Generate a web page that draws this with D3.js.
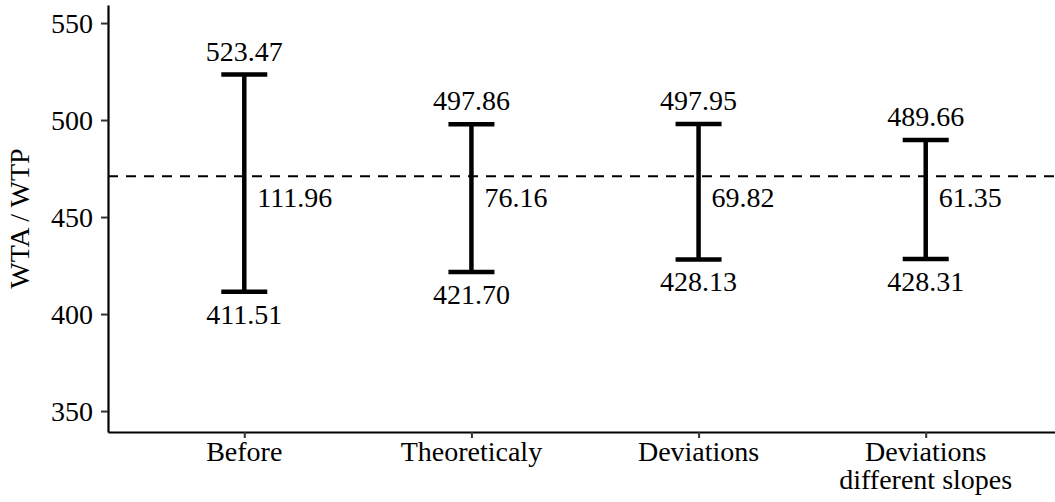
<!DOCTYPE html>
<html><head><meta charset="utf-8">
<script src="https://cdn.jsdelivr.net/npm/d3@7"></script>
<style>body{margin:0;background:#fff}svg{display:block}text{font-family:"Liberation Serif","Times New Roman",serif !important;fill:#000}</style>
</head><body><svg id="c" width="1055" height="502"></svg>
<script>
const categories = ["Before", "Theoreticaly", "Deviations", "Deviations\ndifferent slopes"];
const upper = [523.47, 497.86, 497.95, 489.66];
const lower = [411.51, 421.70, 428.13, 428.31];
const widthLabels = ["111.96", "76.16", "69.82", "61.35"];
const refLine = 471;
const midLabelY = 460;
const yTicks = [350, 400, 450, 500, 550];

const svg = d3.select("#c");
const L = 108, R = 1062, T = 5, B = 432;
const y = d3.scaleLinear().domain([339.2, 559.3]).range([B, T]);
const x = d3.scalePoint().domain(categories).range([L, R]).padding(0.6);
const fs = 28;

// y axis
const ya = svg.append("g").attr("transform", `translate(${L},0)`)
  .call(d3.axisLeft(y).tickValues(yTicks).tickSize(7).tickPadding(8).tickSizeOuter(0));
ya.attr("font-family", null).attr("font-size", null);
ya.select(".domain").attr("stroke", "#000").attr("stroke-width", 2.2);
ya.selectAll(".tick line").attr("stroke", "#333").attr("stroke-width", 2);
ya.selectAll(".tick text").style("font-size", fs + "px").attr("fill", "#000");

// x axis
const xa = svg.append("g").attr("transform", `translate(0,${B})`)
  .call(d3.axisBottom(x).tickSize(6).tickSizeOuter(0).tickFormat(""));
xa.select(".domain").attr("stroke", "#000").attr("stroke-width", 2.2);
xa.selectAll(".tick line").attr("stroke", "#333").attr("stroke-width", 2);
categories.forEach(c => {
  const t = svg.append("text").attr("x", x(c)).attr("y", 461).attr("text-anchor", "middle").style("font-size", fs + "px");
  c.split("\n").forEach((ln, i) => t.append("tspan").attr("x", x(c)).attr("dy", i ? 28 : 0).text(ln));
});

// y title
svg.append("text").attr("transform", `translate(29,${(T + B) / 2}) rotate(-90)`)
  .attr("text-anchor", "middle").style("font-size", fs + "px").text("WTA / WTP");

// reference dashed line
svg.append("line").attr("x1", L).attr("x2", 1055).attr("y1", y(refLine)).attr("y2", y(refLine))
  .attr("stroke", "#000").attr("stroke-width", 2).attr("stroke-dasharray", "10,8");

// error bars
const cap = 23;
categories.forEach((c, i) => {
  const cx = x(c);
  const g = svg.append("g").attr("stroke", "#000").attr("stroke-width", 4.5);
  g.append("line").attr("x1", cx).attr("x2", cx).attr("y1", y(upper[i])).attr("y2", y(lower[i]));
  g.append("line").attr("x1", cx - cap).attr("x2", cx + cap).attr("y1", y(upper[i])).attr("y2", y(upper[i]));
  g.append("line").attr("x1", cx - cap).attr("x2", cx + cap).attr("y1", y(lower[i])).attr("y2", y(lower[i]));
  svg.append("text").attr("x", cx).attr("y", y(upper[i]) - 14).attr("text-anchor", "middle")
    .style("font-size", fs + "px").text(upper[i].toFixed(2));
  svg.append("text").attr("x", cx).attr("y", y(lower[i]) + 32).attr("text-anchor", "middle")
    .style("font-size", fs + "px").text(lower[i].toFixed(2));
  svg.append("text").attr("x", cx + 13).attr("y", y(midLabelY)).attr("dy", "0.35em")
    .style("font-size", fs + "px").text(widthLabels[i]);
});
</script></body></html>
